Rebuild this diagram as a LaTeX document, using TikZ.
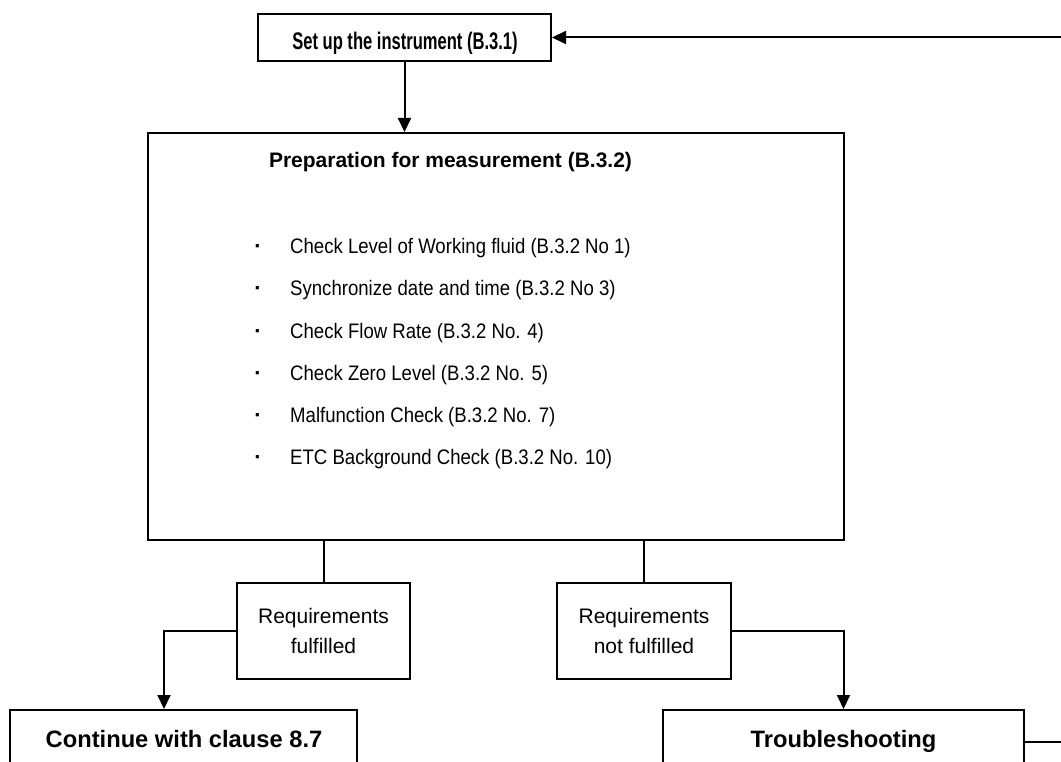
\documentclass[tikz,border=0pt]{standalone}
\usepackage{fontspec}
\usepackage{graphicx}
\setmainfont{Liberation Sans}
\usetikzlibrary{arrows.meta}
\begin{document}
\begin{tikzpicture}[x=1pt,y=-1pt,
  box/.style={draw,line width=2pt,rectangle,inner sep=0pt,anchor=center},
  conn/.style={line width=2pt},
  arr/.style={conn,-{Triangle[length=14pt,width=13pt]}},
  bigbold/.style={font=\bfseries\fontsize{23.7}{28}\selectfont},
  titlebold/.style={font=\bfseries\fontsize{21}{25}\selectfont},
  bullet/.style={font=\fontsize{21}{25}\selectfont},
  small/.style={font=\fontsize{21}{30}\selectfont,align=center}]
\useasboundingbox (0,0) rectangle (1061,762);
\clip (0,0) rectangle (1061,762);

% boxes
\node[box,minimum width=293pt,minimum height=47pt] (setup) at (404.5,37.5) {};
\node[anchor=base,font=\bfseries\fontsize{24}{28}\selectfont] (setupt) at (405,50) {\scalebox{0.69}[1]{Set up the instrument (B.3.1)}};

\node[box,minimum width=696pt,minimum height=407pt] (prep) at (496,336.5) {};
\node[anchor=base,titlebold] (title) at (450.5,168) {Preparation for measurement (B.3.2)};

\foreach \t [count=\i from 0] in {Check Level of Working fluid (B.3.2 No 1),
  Synchronize date and time (B.3.2 No 3),
  Check Flow Rate (B.3.2 No. 4),
  Check Zero Level (B.3.2 No. 5),
  Malfunction Check (B.3.2 No. 7),
  ETC Background Check (B.3.2 No. 10)}{
  \node[anchor=base,bullet,font=\bfseries\fontsize{22}{25}\selectfont] (d\i) at (258,254+42*\i) {·};
  \node[anchor=base west,bullet,inner sep=0pt] (b\i) at (290,254+42*\i) {\scalebox{0.885}[1]{\t}};
}

\node[box,minimum width=173pt,minimum height=96pt,small] (req1) at (323.5,631) {Requirements\\fulfilled};
\node[box,minimum width=174pt,minimum height=96pt,small] (req2) at (644,631) {Requirements\\not fulfilled};

\node[box,minimum width=347pt,minimum height=60pt] (cont) at (183.5,740) {};
\node[anchor=base,bigbold] (contt) at (184,747) {Continue with clause 8.7};

\node[box,minimum width=361pt,minimum height=60pt] (trouble) at (843.5,740) {};
\node[anchor=base,bigbold] (troublet) at (843.5,747) {Troubleshooting};

% connectors
\draw[arr] (setup.south) -- (prep.north -| setup.south);
\draw[conn] (prep.south -| req1.north) -- (req1.north);
\draw[conn] (prep.south -| req2.north) -- (req2.north);
\draw[arr] (req1.west) -| ([xshift=-19.5pt]cont.north);
\draw[arr] (req2.east) -| (trouble.north);
\coordinate (loop) at (1080,0);
\draw[arr] ([yshift=-2pt]trouble.east) -| (loop |- setup.east) -- (setup.east);
\end{tikzpicture}
\end{document}
